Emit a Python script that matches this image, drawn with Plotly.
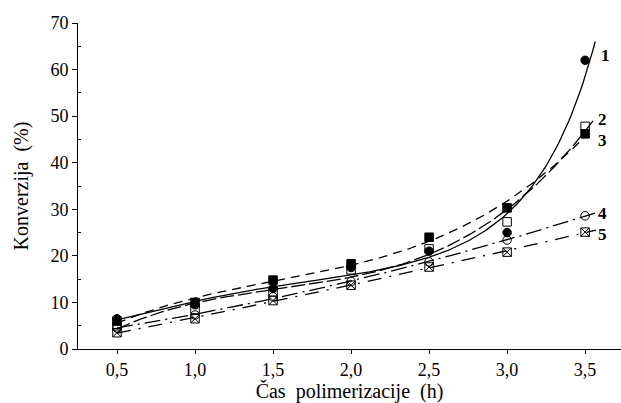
import numpy as np
import plotly.graph_objects as go

time_h = [0.5, 1.0, 1.5, 2.0, 2.5, 3.0, 3.5]
s1 = [6.5, 9.5, 13.0, 17.5, 21.0, 25.0, 62.0]
s2 = [5.0, 8.5, 12.3, 17.0, 21.5, 27.3, 47.8]
s3 = [6.0, 10.0, 14.8, 18.3, 24.0, 30.3, 46.2]
s4 = [4.5, 7.3, 11.2, 14.5, 18.7, 23.4, 28.6]
s5 = [3.5, 6.5, 10.4, 13.7, 17.6, 20.8, 25.1]
series_labels = ["1", "2", "3", "4", "5"]
x_ticks = [0.5, 1.0, 1.5, 2.0, 2.5, 3.0, 3.5]
y_ticks = [0, 10, 20, 30, 40, 50, 60, 70]

series = [s1, s2, s3, s4, s5]
fit_end = [3.565, 3.56, 3.5, 3.57, 3.57]
dashes = ["solid", "14px,4px", "9px,6px", "16px,5px,2px,5px", "14px,8px,2px,8px"]
symbols = ["circle", "square-open", "square", "circle-open", "square-x-open"]


def trend(xs, ys, kind, x_new):
    xs = np.asarray(xs)
    ys = np.asarray(ys)
    if kind == "logcubic":
        coef = np.polyfit(xs, np.log(ys), 3)
        return np.exp(np.polyval(coef, x_new))
    deg = int(kind)
    return np.polyval(np.polyfit(xs, ys, deg), x_new)


fit_kind = ["logcubic", "3", "3", "2", "2"]

fig = go.Figure()
for i, ys in enumerate(series):
    xf = np.linspace(0.5, fit_end[i], 200)
    yf = trend(time_h, ys, fit_kind[i], xf)
    fig.add_trace(go.Scatter(x=xf, y=yf, mode="lines",
                             line=dict(color="black", width=1.3, dash=dashes[i]),
                             hoverinfo="skip", showlegend=False))
for i, ys in enumerate(series):
    fig.add_trace(go.Scatter(x=time_h, y=ys, mode="markers",
                             marker=dict(symbol=symbols[i], size=8.5, color="black",
                                         line=dict(color="black", width=1)),
                             showlegend=False))

label_y = [63, 49.3, 44.8, 29.1, 24.6]
label_x = [3.59, 3.57, 3.57, 3.57, 3.57]
for i, lab in enumerate(series_labels):
    fig.add_annotation(x=label_x[i], y=label_y[i], text="<b>%s</b>" % lab,
                       showarrow=False, xanchor="left", yanchor="middle",
                       font=dict(family="Liberation Serif", size=17, color="black"))

NB = "\u00a0"
fig.update_layout(
    width=621, height=403,
    margin=dict(l=78, r=0, t=23, b=54),
    plot_bgcolor="white", paper_bgcolor="white",
    separators=", ",
    font=dict(family="Liberation Serif", size=18, color="black"),
)
fig.update_xaxes(range=[0.25, 3.73], tickvals=x_ticks, tickformat=".1f",
                 showgrid=False, zeroline=False, showline=True, linecolor="black",
                 linewidth=1, ticks="outside", ticklen=4, tickcolor="black",
                 title=dict(text="Čas" + NB * 2 + "polimerizacije" + NB * 2 + "(h)",
                            standoff=4, font=dict(size=20)))
fig.update_yaxes(range=[0, 70], tickvals=y_ticks, tickformat="d",
                 showgrid=False, zeroline=False, showline=True, linecolor="black",
                 linewidth=1, ticks="outside", ticklen=5, tickcolor="black",
                 minor=dict(tickvals=[5, 15, 25, 35, 45, 55, 65], ticks="inside",
                            ticklen=3, tickcolor="black"),
                 title=dict(text="Konverzija" + NB * 2 + "(%)", standoff=16,
                            font=dict(size=20)))

fig.write_html("out.html", config={"displayModeBar": False},
               post_script="document.body.style.margin='0px';")
